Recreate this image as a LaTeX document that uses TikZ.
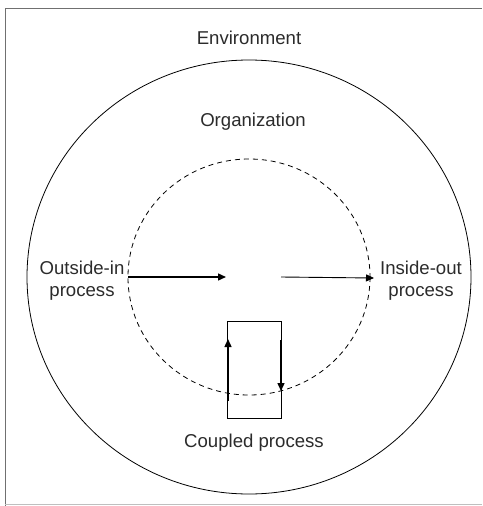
\documentclass[tikz,border=0pt]{standalone}
\usepackage{fontspec}
\setmainfont{Liberation Sans}
\usetikzlibrary{arrows.meta}
\definecolor{txt}{HTML}{2B2B2B}
\definecolor{frame}{HTML}{707070}
\begin{document}
\begin{tikzpicture}[x=1pt,y=-1pt,
  lbl/.style={font=\fontsize{18.6}{22}\selectfont, text=txt, align=center, inner sep=0pt},
  flow/.style={-{Triangle[length=8pt,width=7pt]}, line width=1.4pt},
  thinflow/.style={-{Triangle[length=8pt,width=7pt]}, line width=0.9pt}]
\useasboundingbox (0,0) rectangle (482,506);
% frame
\draw[frame, line width=0.8pt] (5,506) -- (5,8) -- (482,8);
\draw[black!25, line width=0.6pt] (5,504) -- (482,504);
% circles
\draw[line width=0.8pt] (249,277) ellipse [x radius=222, y radius=217];
\draw[dashed, dash pattern=on 5pt off 4pt, line width=0.8pt] (249,277) ellipse [x radius=121, y radius=118];
% labels
\node[lbl] (env) at (249,38) {Environment};
\node[lbl] (org) at (253,122) {Organization};
\node[lbl] (oi) at (82,281) {Outside-in\\process};
\node[lbl] (io) at (421,281) {Inside-out\\process};
\node[lbl] (cp) at (254,443) {Coupled process};
% coupled box
\node[draw, line width=0.8pt, minimum width=54pt, minimum height=97pt, inner sep=0pt] (box) at (254,369.5) {};
% arrows
\coordinate (a1s) at (128,277);
\coordinate (a1e) at (226,277);
\coordinate (a2s) at (281,277);
\coordinate (a2e) at (374,278);
\draw[flow] (a1s) -- (a1e);
\draw[thinflow] (a2s) -- (a2e);
\coordinate (upS) at (228,401);
\coordinate (upE) at (228,339);
\coordinate (dnS) at (281,340);
\coordinate (dnE) at (281,391);
\draw[flow] (upS) -- (upE);
\draw[flow] (dnS) -- (dnE);
\end{tikzpicture}
\end{document}
